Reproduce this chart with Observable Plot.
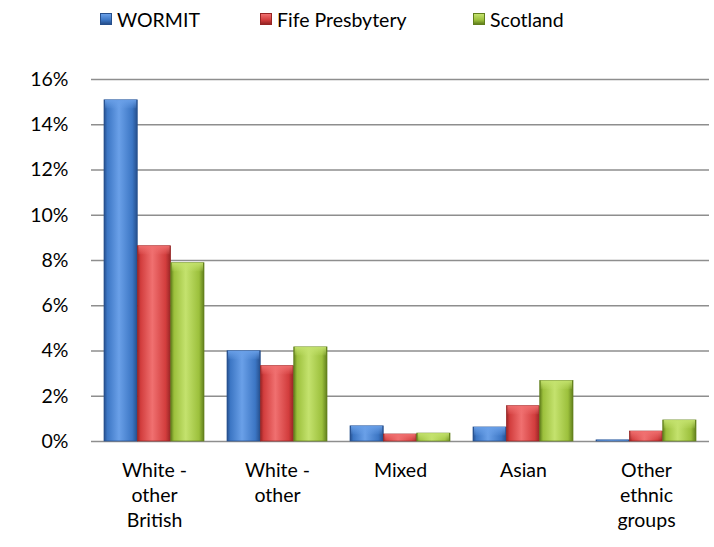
<!DOCTYPE html>
<html><head><meta charset="utf-8">
<script src="https://cdn.jsdelivr.net/npm/d3@7"></script>
<script src="https://cdn.jsdelivr.net/npm/@observablehq/plot@0.6"></script>
<style>
body{margin:0;background:#fff;font-family:Lato,"Open Sans",sans-serif;font-weight:400;}
#legend{position:relative;height:38px;width:714px;font-size:19.5px;color:#000;}
.item{position:absolute;top:6px;height:26px;display:flex;align-items:center;white-space:nowrap;}
.sw{width:12px;height:12px;margin-right:5px;box-sizing:border-box;}
</style></head><body>
<div id="legend"></div>
<div id="chart"></div>
<svg width="0" height="0" style="position:absolute"><defs id="defs"></defs></svg>
<script>
const categories = ["White - other British","White - other","Mixed","Asian","Other ethnic groups"];
const categoryLabels = ["White -\nother\nBritish","White -\nother","Mixed","Asian","Other\nethnic\ngroups"];
const seriesNames = ["WORMIT","Fife Presbytery","Scotland"];
const wormit   = [0.1508,0.0399,0.0067,0.0062,0.0005];
const fife     = [0.0863,0.0333,0.0031,0.0156,0.0044];
const scotland = [0.0788,0.0416,0.0035,0.0267,0.0093];
const yTicks = [0,0.02,0.04,0.06,0.08,0.10,0.12,0.14,0.16];

const baseC  = ["#3c76c4","#d23d3d","#9cc03c"];
const lightC = ["#6aa0e8","#f07070","#c4e26e"];
const darkC  = ["#264f8c","#962424","#617f1c"];
const legendX = [100,260,473];

// gradients
const defs = d3.select("#defs");
baseC.forEach((c,i)=>{
  const g = defs.append("linearGradient").attr("id","g"+i).attr("x1","0").attr("x2","1").attr("y1","0").attr("y2","0");
  [[0,darkC[i]],[0.1,c],[0.45,lightC[i]],[0.85,c],[1,darkC[i]]].forEach(([o,col])=>g.append("stop").attr("offset",o).attr("stop-color",col));
  const t = defs.append("linearGradient").attr("id","t"+i).attr("x1","0").attr("x2","0").attr("y1","0").attr("y2","1");
  [[0,lightC[i],0.95],[1,lightC[i],0.1]].forEach(([o,col,op])=>t.append("stop").attr("offset",o).attr("stop-color",col).attr("stop-opacity",op));
});

// legend
const leg = d3.select("#legend");
seriesNames.forEach((s,i)=>{
  const it = leg.append("div").attr("class","item").style("left",legendX[i]+"px");
  it.append("div").attr("class","sw").style("background",`linear-gradient(to bottom, ${lightC[i]}, ${baseC[i]} 60%, ${darkC[i]})`).style("border",`1px solid ${darkC[i]}`);
  it.append("span").text(s);
});

const W=714, H=509, mL=91, mR=5, mT=41, mB=106;
const pIn=0.19, pOut=0.095;
const step=(W-mL-mR)/(categories.length - pIn + 2*pOut);
const bw=step*(1-pIn);
const seriesValues=[wormit,fife,scotland];

const marks=[Plot.ruleY(yTicks,{stroke:"#8e8e8e",strokeWidth:1.6})];
seriesValues.forEach((vals,i)=>{
  const data=categories.map((c,j)=>({cat:c,v:vals[j]}));
  const il=i*bw/3, ir=(2-i)*bw/3;
  marks.push(Plot.barY(data,{x:"cat",y:"v",fill:`url(#g${i})`,stroke:darkC[i],strokeWidth:0.7,insetLeft:il,insetRight:ir}));
  marks.push(Plot.barY(data,{x:"cat",y1:"v",y2:d=>Math.max(0,d.v-0.0038),fill:`url(#t${i})`,insetLeft:il+1,insetRight:ir+1}));
});
marks.push(Plot.text(categories,{x:d=>d,text:(d,i)=>categoryLabels[i],frameAnchor:"bottom",lineAnchor:"top",dy:18,lineHeight:1.28,fontSize:19.5,fill:"#000"}));

const chart = Plot.plot({
  width:W,height:H,marginLeft:mL,marginRight:mR,marginTop:mT,marginBottom:mB,
  style:{fontFamily:"Lato, 'Open Sans', sans-serif",fontSize:"19.5px",color:"#000",background:"#fff"},
  x:{domain:categories,paddingInner:pIn,paddingOuter:pOut,axis:null},
  y:{domain:[0,0.16],ticks:yTicks,tickFormat:d3.format(".0%"),tickSize:0,tickPadding:23,label:null},
  marks
});
document.getElementById("chart").appendChild(chart);
</script>
</body></html>
